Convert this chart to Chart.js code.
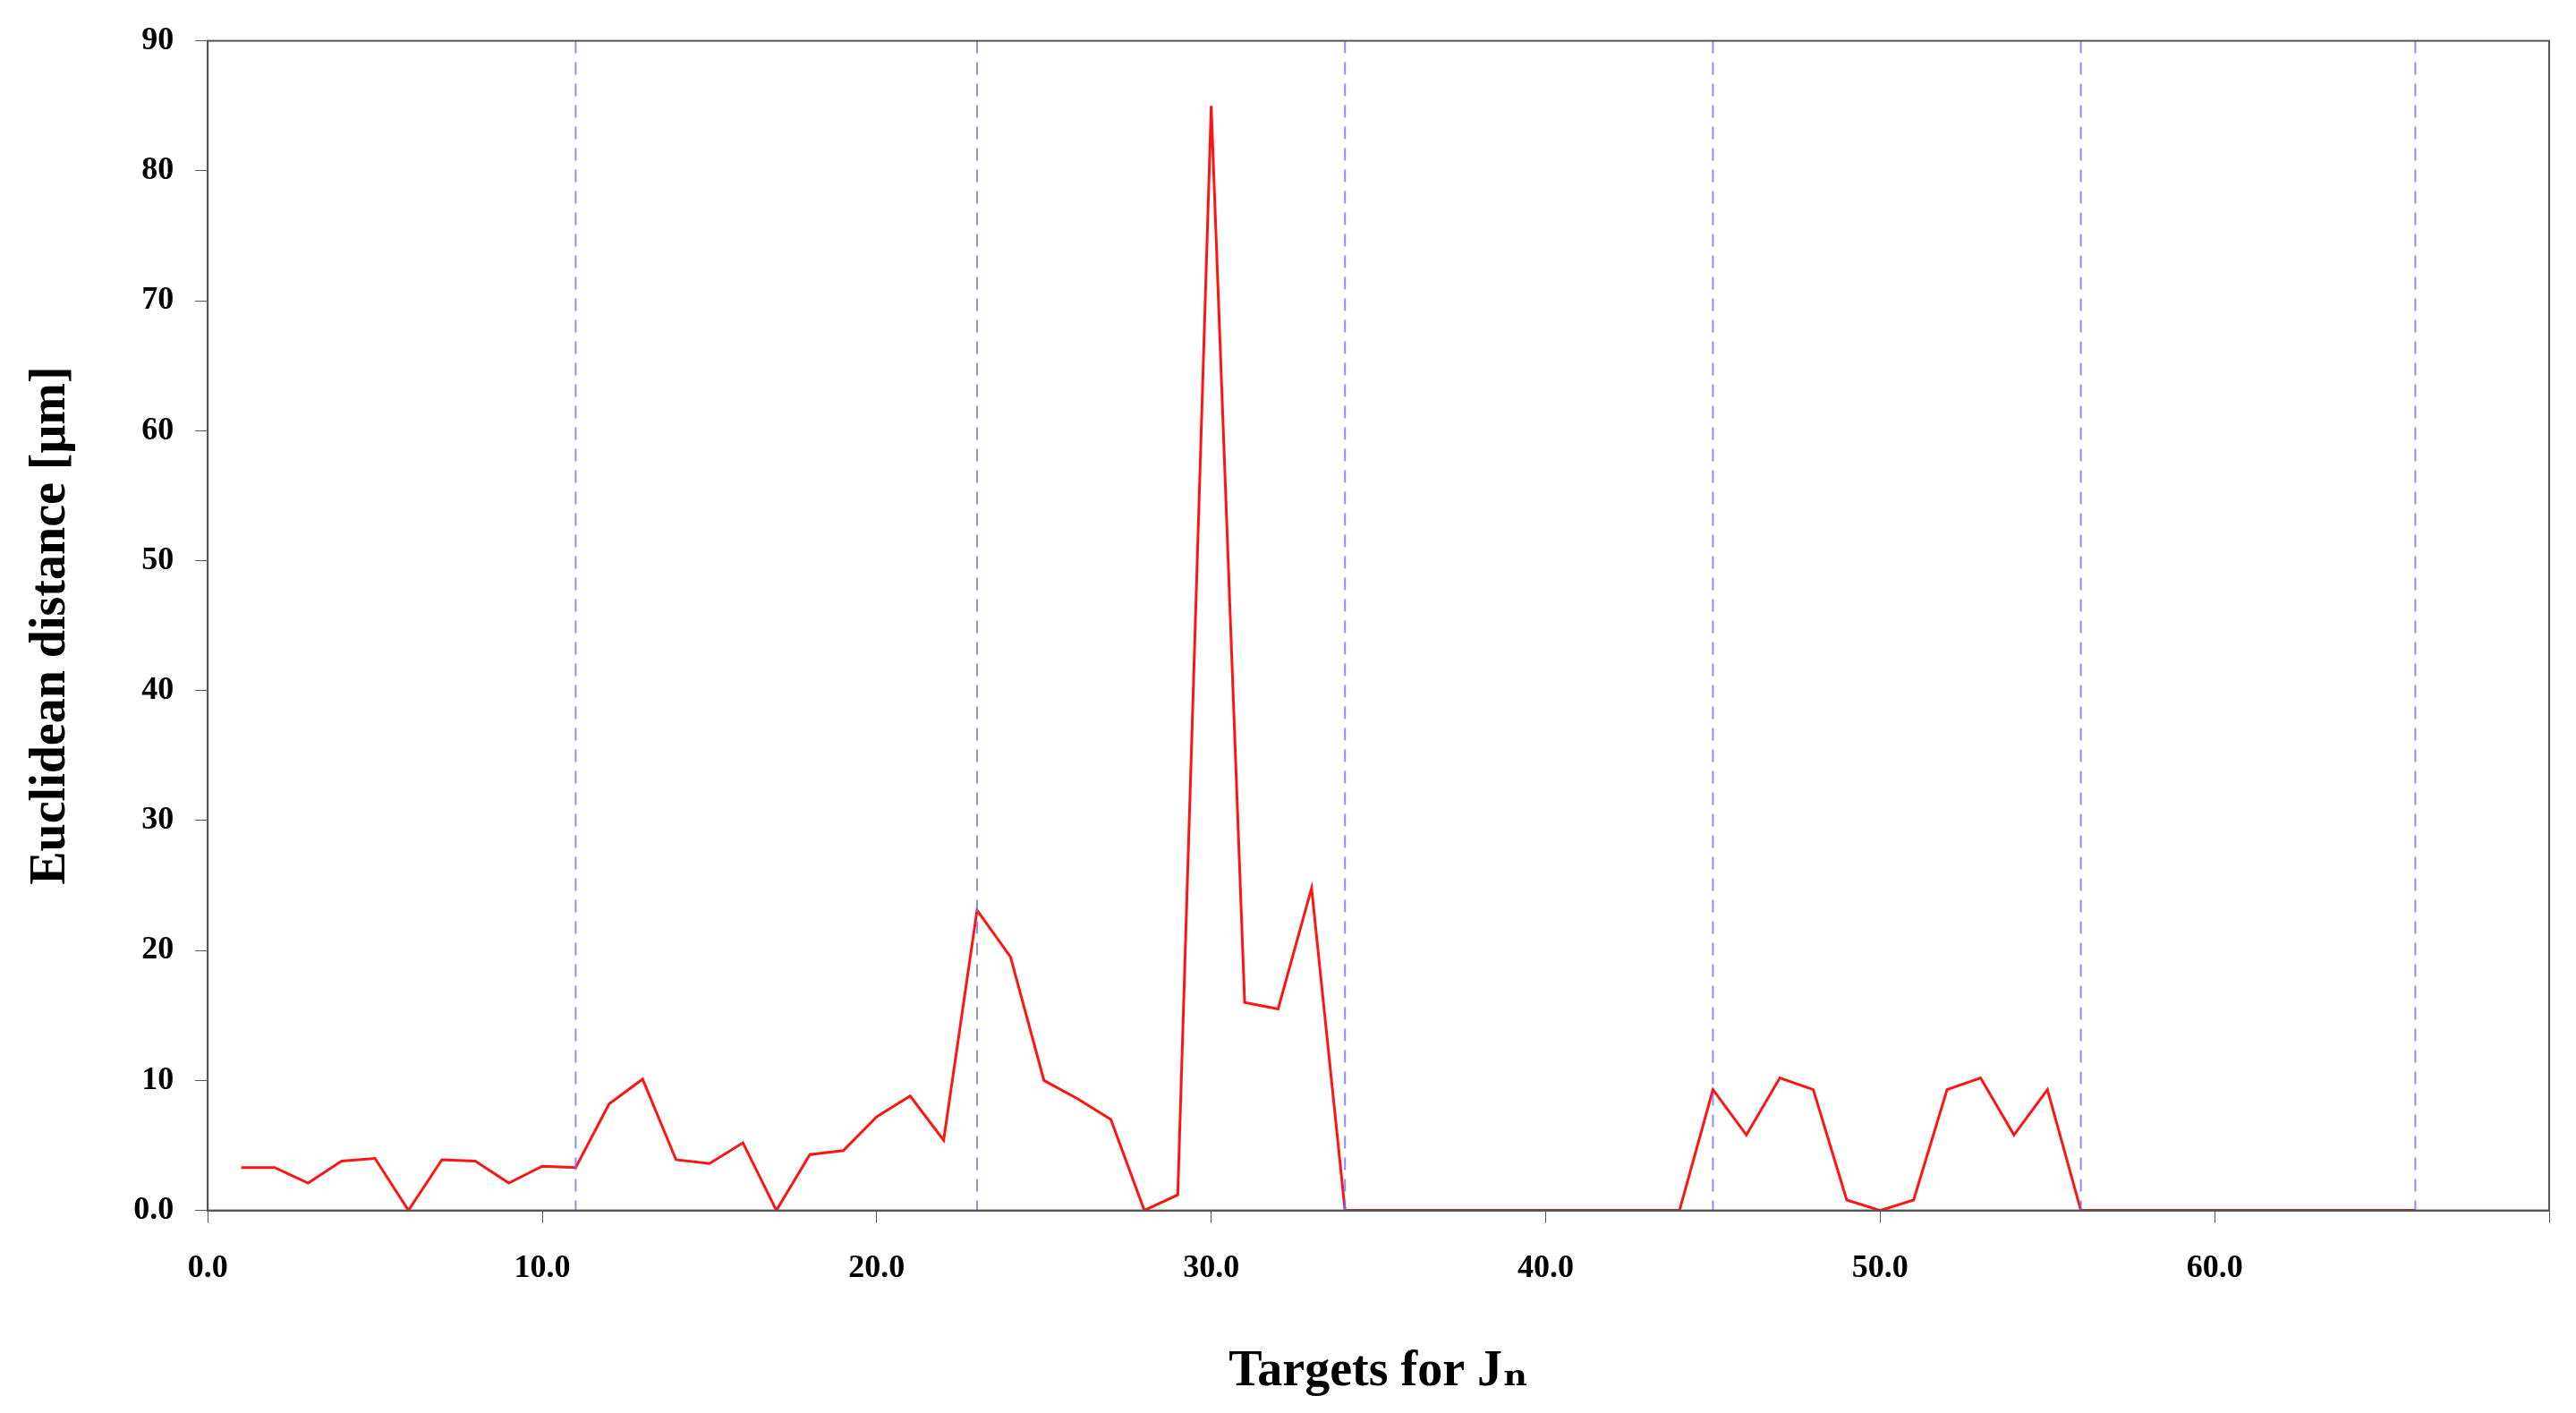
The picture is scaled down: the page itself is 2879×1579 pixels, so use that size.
<!DOCTYPE html>
<html>
<head>
<meta charset="utf-8">
<script src="https://cdn.jsdelivr.net/npm/chart.js@4/dist/chart.umd.min.js"></script>
<style>
  html, body { margin: 0; padding: 0; background: #fff; }
  #wrap { width: 2879px; height: 1579px; }
</style>
</head>
<body>
<div id="wrap"><canvas id="distance_chart"></canvas></div>
<script>
// target index and euclidean distance
const targets = [];
for (let i = 1; i <= 66; i++) targets.push(i);
const distances = [
  3.3, 3.3, 2.1, 3.8, 4.0, 0, 3.9, 3.8, 2.1, 3.4,
  3.3, 8.2, 10.1, 3.9, 3.6, 5.2, 0, 4.3, 4.6, 7.2,
  8.8, 5.4, 23.1, 19.5, 10.0, 8.6, 7.0, 0, 1.2, 85.0,
  16.0, 15.5, 24.8, 0, 0, 0, 0, 0, 0, 0,
  0, 0, 0, 0, 9.3, 5.8, 10.2, 9.3, 0.8, 0,
  0.8, 9.3, 10.2, 5.8, 9.3, 0, 0, 0, 0, 0,
  0, 0, 0, 0, 0, 0
];
const groupLines = [11, 23, 34, 45, 56, 66];

const serif = '"Liberation Serif", "DejaVu Serif", serif';

const extras = {
  id: 'extras',
  afterDatasetsDraw(chart) {
    const ctx = chart.ctx, a = chart.chartArea, x = chart.scales.x;
    ctx.save();
    ctx.strokeStyle = 'rgba(110,110,255,0.8)';
    ctx.lineWidth = 2;
    ctx.setLineDash([14, 10]);
    groupLines.forEach(v => {
      const px = x.getPixelForValue(v);
      ctx.beginPath();
      ctx.moveTo(px, a.top);
      ctx.lineTo(px, a.bottom);
      ctx.stroke();
    });
    ctx.setLineDash([]);
    ctx.strokeStyle = '#555';
    ctx.lineWidth = 2;
    ctx.strokeRect(a.left, a.top, a.right - a.left, a.bottom - a.top);
    ctx.restore();
  }
};

const points = targets.map((t, i) => ({ x: t, y: distances[i] }));

new Chart(document.getElementById('distance_chart'), {
  type: 'line',
  data: {
    datasets: [{
      data: points,
      borderColor: 'rgb(255, 20, 20)',
      borderWidth: 3,
      pointRadius: 0,
      tension: 0
    }]
  },
  options: {
    responsive: true,
    maintainAspectRatio: false,
    animation: false,
    layout: { padding: { top: 12, right: 22, left: 20, bottom: 8 } },
    plugins: { legend: { display: false }, tooltip: { enabled: false } },
    scales: {
      x: {
        type: 'linear', min: 0, max: 70,
        ticks: {
          stepSize: 10,
          padding: 30,
          color: '#000',
          font: { family: serif, size: 36, weight: 'bold' },
          callback: v => v === 70 ? '' : v.toFixed(1)
        },
        grid: { drawOnChartArea: false, tickLength: 14, color: '#555' },
        border: { color: '#555', width: 2 },
        title: {
          display: true, text: 'Targets for J\u2099', color: '#000',
          padding: { top: 30 },
          font: { family: serif, size: 56, weight: 'bold' }
        }
      },
      y: {
        min: 0, max: 90,
        ticks: {
          stepSize: 10,
          padding: 24,
          color: '#000',
          font: { family: serif, size: 36, weight: 'bold' },
          callback: v => v === 0 ? '0.0' : String(v)
        },
        grid: { drawOnChartArea: false, tickLength: 14, color: '#555' },
        border: { color: '#555', width: 2 },
        title: {
          display: true, text: 'Euclidean distance [\u03bcm]', color: '#000',
          padding: { bottom: 34 },
          font: { family: serif, size: 56, weight: 'bold' }
        }
      }
    }
  },
  plugins: [extras]
});
</script>
</body>
</html>
